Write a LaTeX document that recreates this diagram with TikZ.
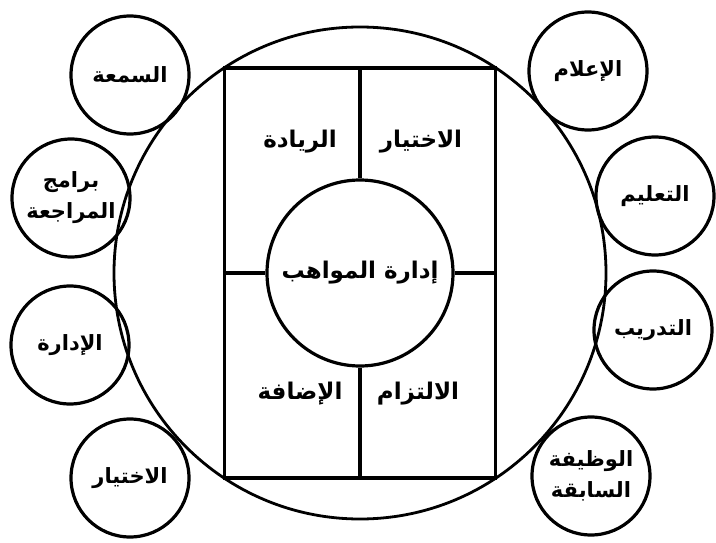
\documentclass[tikz,border=0pt]{standalone}
\usepackage{fontspec}
\TeXXeTstate=1
\newfontfamily\arabicfont[Script=Arabic]{DejaVu Sans}
\newcommand{\artxt}[1]{\beginR #1\endR}
\begin{document}
\begin{tikzpicture}[x=1pt,y=-1pt,line width=3.2pt,
  lbl/.style={font=\arabicfont\bfseries\fontsize{23}{32}\selectfont,align=center,inner sep=0pt},
  sat/.style={draw,circle,minimum size=118pt,inner sep=0pt,lbl,font=\arabicfont\bfseries\fontsize{21}{31}\selectfont}]
\useasboundingbox (0,0) rectangle (716,543);
% outer circle and frame
\node (outer) [draw,circle,minimum size=492pt,inner sep=0pt,line width=2.8pt] at (360,273) {};
\node (frame) [draw,rectangle,minimum width=271pt,minimum height=410pt,inner sep=0pt] at (360,273) {};
\node (core) [draw,circle,minimum size=186pt,inner sep=0pt,lbl] at (360,273) {\artxt{إدارة المواهب}};
\draw (frame.north) -- (core.north);
\draw (core.south) -- (frame.south);
\draw (frame.west) -- (core.west);
\draw (core.east) -- (frame.east);
% quadrant labels
\node (q1) [lbl] at (421,142) {\artxt{الاختيار}};
\node (q2) [lbl] at (300,142) {\artxt{الريادة}};
\node (q3) [lbl] at (300,394) {\artxt{الإضافة}};
\node (q4) [lbl] at (418,394) {\artxt{الالتزام}};
% left satellites
\node (l1) [sat] at (130,75) {\artxt{السمعة}};
\node (l2) [sat] at (71,198) {\artxt{برامج}\\\artxt{المراجعة}};
\node (l3) [sat] at (70,345) {\artxt{الإدارة}};
\node (l4) [sat] at (130,478) {\artxt{الاختيار}};
% right satellites
\node (r1) [sat] at (588,71) {\artxt{الإعلام}};
\node (r2) [sat] at (655,196) {\artxt{التعليم}};
\node (r3) [sat] at (653,330) {\artxt{التدريب}};
\node (r4) [sat] at (591,476) {\artxt{الوظيفة}\\\artxt{السابقة}};
\end{tikzpicture}
\end{document}
